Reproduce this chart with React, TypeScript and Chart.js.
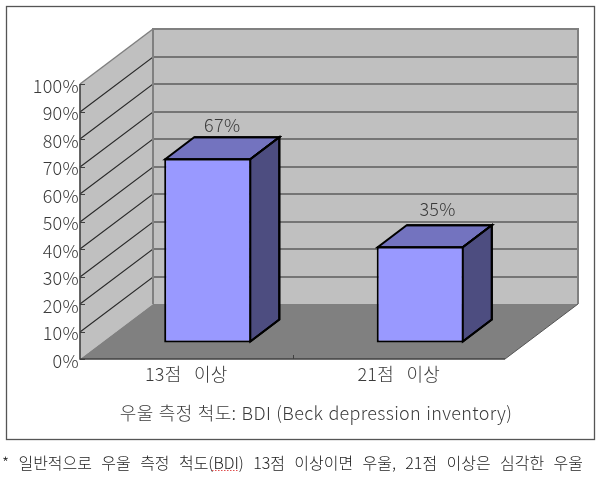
import React, { useEffect, useRef } from "react";
import { Chart, registerables } from "chart.js";

Chart.register(...registerables);

const categories = ["13점 이상", "21점 이상"];
const seriesValues = [67, 35];
const axisTitle = "우울 측정 척도: BDI (Beck depression inventory)";
const footnote = "* 일반적으로 우울 측정 척도(BDI) 13점 이상이면 우울, 21점 이상은 심각한 우울";

const FONT = '"Noto Sans CJK KR", "Noto Sans", sans-serif';
const TEXT = "#3a3a3a";
const DX = 73;
const DY = 55;
const BAR_SHIFT_X = 21.5;
const BAR_SHIFT_Y = 16.5;
const BAR_DX = 29;
const BAR_DY = 22;

function poly(ctx: CanvasRenderingContext2D, pts: number[][], fill: string | null, stroke?: string, lw = 1) {
  ctx.beginPath();
  pts.forEach((p, i) => (i ? ctx.lineTo(p[0], p[1]) : ctx.moveTo(p[0], p[1])));
  if (fill) {
    ctx.closePath();
    ctx.fillStyle = fill;
    ctx.fill();
  }
  if (stroke) {
    ctx.strokeStyle = stroke;
    ctx.lineWidth = lw;
    ctx.stroke();
  }
}

const box3d = {
  id: "box3d",
  beforeDraw(chart: any) {
    const ctx: CanvasRenderingContext2D = chart.ctx;
    const { left: l, right: r, top: t, bottom: b } = chart.chartArea;
    const y = chart.scales.y;
    const x = chart.scales.x;
    // kept for the native tick labels and the data labels
    (ctx as any).letterSpacing = "0.3px";
    (ctx as any).wordSpacing = "8px";
    ctx.save();
    ctx.fillStyle = "#ffffff";
    ctx.fillRect(0, 0, chart.width, chart.height);
    ctx.strokeStyle = "#555555";
    ctx.lineWidth = 1.3;
    ctx.strokeRect(6.5, 6.5, 588, 433);

    // walls and floor
    poly(ctx, [[l, b], [l, t], [l + DX, t - DY], [l + DX, b - DY]], "#c0c0c0");
    poly(ctx, [[l + DX, t - DY], [r + DX, t - DY], [r + DX, b - DY], [l + DX, b - DY]], "#c0c0c0");
    poly(ctx, [[l, b], [r, b], [r + DX, b - DY], [l + DX, b - DY]], "#808080");

    // gridlines from the value axis ticks
    y.ticks.forEach((tk: any) => {
      const py = Math.round(y.getPixelForValue(tk.value));
      if (tk.value === 0 || tk.value === 100) return;
      poly(ctx, [[l, py], [l + DX, py - DY], [r + DX, py - DY]], null, "#2a2a2a", 1.1);
    });

    // wall edges
    poly(ctx, [[l + DX, b - DY], [l + DX, t - DY], [r + DX, t - DY], [r + DX, b - DY]], null, "#808080", 2);
    poly(ctx, [[l, t], [l + DX, t - DY]], null, "#808080", 1.5);
    poly(ctx, [[r, b], [r + DX, b - DY]], null, "#555555", 1);

    // axes
    poly(ctx, [[l, t], [l, b], [r, b]], null, "#404040", 1.6);
    y.ticks.forEach((tk: any) => {
      const py = Math.round(y.getPixelForValue(tk.value)) + 0.5;
      poly(ctx, [[l, py], [l + 5, py]], null, "#404040", 1);
    });
    const step = (r - l) / categories.length;
    for (let i = 1; i < categories.length; i++) {
      const px = Math.round(x.left + step * i) + 0.5;
      poly(ctx, [[px, b - 4], [px, b]], null, "#404040", 1);
    }

    // axis title and footnote
    ctx.textBaseline = "middle";
    ctx.textAlign = "center";
    ctx.fillStyle = TEXT;
    ctx.font = `300 18px ${FONT}`;
    (ctx as any).letterSpacing = "0.3px";
    (ctx as any).wordSpacing = "1px";
    ctx.fillText(axisTitle, 316, 413);
    ctx.textAlign = "left";
    ctx.fillStyle = "#222222";
    ctx.font = `300 16px ${FONT}`;
    (ctx as any).letterSpacing = "0px";
    (ctx as any).wordSpacing = "5.8px";
    ctx.fillText(footnote, 2, 463);
    ctx.setLineDash([1.5, 1.5]);
    poly(ctx, [[212, 470.5], [238, 470.5]], null, "#e05050", 1);
    ctx.setLineDash([]);
    ctx.restore();
  },
  beforeDatasetDraw(chart: any) {
    chart.ctx.save();
    chart.ctx.translate(BAR_SHIFT_X, -BAR_SHIFT_Y);
  },
  afterDatasetDraw(chart: any, args: any) {
    const ctx: CanvasRenderingContext2D = chart.ctx;
    args.meta.data.forEach((el: any, i: number) => {
      const p = el.getProps(["x", "y", "base", "width"], true);
      const x0 = p.x - p.width / 2 + 1;
      const x1 = p.x + p.width / 2 - 1;
      const top = p.y + 1;
      const bot = p.base - 1;
      ctx.lineJoin = "miter";
      const topFace = [[x0, top], [x1, top], [x1 + BAR_DX, top - BAR_DY], [x0 + BAR_DX, top - BAR_DY]];
      poly(ctx, topFace, "#7373bf");
      poly(ctx, topFace, null, "#000000", 2);
      ctx.closePath();
      ctx.stroke();
      const sideFace = [[x1, top], [x1 + BAR_DX, top - BAR_DY], [x1 + BAR_DX, bot - BAR_DY], [x1, bot]];
      poly(ctx, sideFace, "#4d4d80");
      poly(ctx, sideFace, null, "#000000", 2);
      ctx.closePath();
      ctx.stroke();
      ctx.fillStyle = TEXT;
      ctx.font = `300 18px ${FONT}`;
      ctx.textAlign = "center";
      ctx.textBaseline = "middle";
      const extra = i === 0 ? 0 : 4;
      ctx.fillText(`${seriesValues[i]}%`, p.x + BAR_DX / 2 + extra * 0.7, top - BAR_DY - 12 - extra);
    });
    ctx.restore();
  },
};

export default function App() {
  const ref = useRef<HTMLCanvasElement>(null);
  useEffect(() => {
    const chart = new Chart(ref.current as HTMLCanvasElement, {
      type: "bar",
      data: {
        labels: categories,
        datasets: [
          {
            data: seriesValues,
            backgroundColor: "#9999ff",
            borderColor: "#000000",
            borderWidth: 2,
            borderSkipped: false,
            categoryPercentage: 1,
            barPercentage: 0.41,
            clip: false,
          } as any,
        ],
      },
      options: {
        animation: false,
        responsive: false,
        devicePixelRatio: 1,
        layout: { padding: { left: 0, top: 84, right: 95, bottom: 81 } },
        plugins: { legend: { display: false }, tooltip: { enabled: false }, title: { display: false } },
        scales: {
          x: {
            grid: { display: false, drawTicks: false },
            border: { display: false },
            ticks: { color: TEXT, font: { family: FONT, size: 18, weight: "300" as any }, padding: 4, maxRotation: 0 },
            afterFit(s: any) {
              s.height = 40;
              s.paddingLeft = 0;
              s.paddingRight = 0;
            },
          },
          y: {
            min: 0,
            max: 100,
            grid: { display: false, drawTicks: false },
            border: { display: false },
            ticks: {
              stepSize: 10,
              color: TEXT,
              padding: 1,
              labelOffset: 2,
              font: { family: FONT, size: 18, weight: "300" as any },
              callback: (v: any) => `${v}%`,
            },
            afterFit(s: any) {
              s.width = 80;
              s.paddingTop = 0;
              s.paddingBottom = 0;
            },
          },
        },
      },
      plugins: [box3d],
    });
    return () => chart.destroy();
  }, []);
  return (
    <div style={{ position: "absolute", left: 0, top: 0, width: 600, height: 480 }}>
      <canvas ref={ref} width={600} height={480} style={{ display: "block" }} />
    </div>
  );
}
